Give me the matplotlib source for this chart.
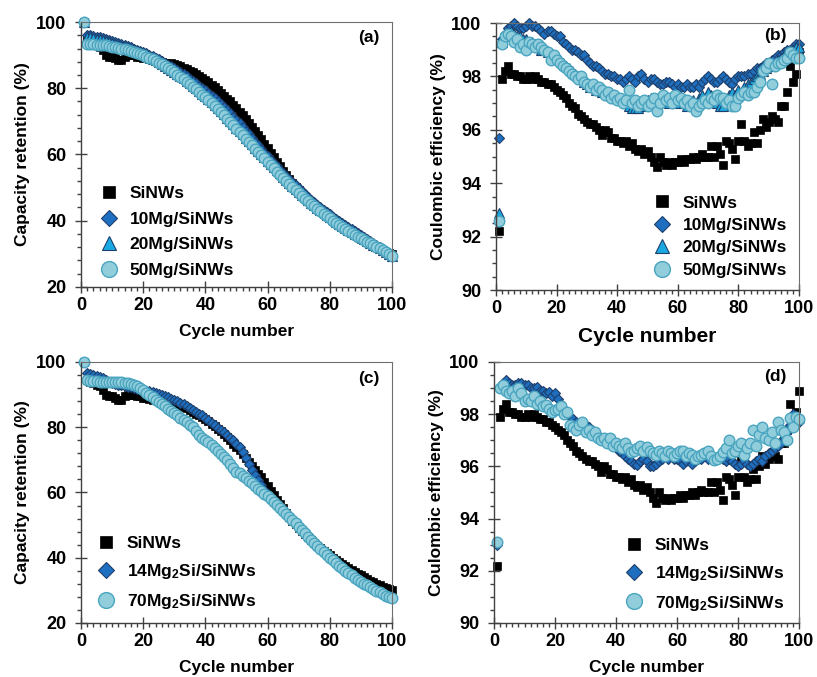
import numpy as np
import matplotlib
matplotlib.use('Agg')
from matplotlib import pyplot as plt
from matplotlib.ticker import MultipleLocator

plt.rcParams['font.family'] = ['Liberation Sans', 'DejaVu Sans']
plt.rcParams['font.weight'] = 'bold'
plt.rcParams['mathtext.fontset'] = 'custom'
plt.rcParams['mathtext.rm'] = 'Liberation Sans:bold'
plt.rcParams['mathtext.default'] = 'rm'

cycles = np.arange(1, 101)

# capacity retention (%), panels (a) and (c)
cap_sinws = [100,
             94.5, 94, 93.5, 93, 92.5, 91.5, 90, 89.5, 89.5,
             89, 88.5, 88.5, 89.5, 90, 90, 90, 89.5, 89.5, 89,
             89, 88.7, 88.5, 88.2, 88, 87.8, 87.6, 87.4, 87.5, 87.3,
             87, 86.6, 86.2, 85.8, 85.3, 84.8, 84.2, 83.7, 83.1, 82.5,
             81.8, 81.1, 80.3, 79.5, 78.7, 77.8, 76.9, 76, 75, 74,
             72.9, 71.8, 70.6, 69.4, 68.2, 67, 65.8, 64.6, 63.3, 62,
             60.6, 59.2, 57.8, 56.4, 55.1, 53.8, 52.6, 51.4, 50.3, 49.2,
             48.2, 47.2, 46.3, 45.4, 44.5, 43.7, 42.9, 42.1, 41.4, 40.7,
             40, 39.3, 38.6, 38, 37.4, 36.8, 36.2, 35.6, 35.1, 34.6,
             34.1, 33.5, 33, 32.5, 32, 31.5, 31.1, 30.7, 30.3, 30]
cap_10mg = [100,
            96, 96, 95.8, 95.6, 95.4, 95.2, 95, 94.7, 94.4,
            94.1, 93.8, 93.5, 93.2, 92.8, 92.4, 92, 91.6, 91.2, 90.8,
            90.5, 90.1, 89.7, 89.2, 88.7, 88.2, 87.7, 87.1, 86.6, 86.1,
            85.5, 84.9, 84.3, 83.6, 82.9, 82.2, 81.5, 80.8, 80.1, 79.4,
            78.6, 77.8, 77, 76.1, 75.2, 74.3, 73.4, 72.4, 71.4, 70.4,
            69.4, 68.3, 67.2, 66.1, 65, 63.9, 62.8, 61.7, 60.6, 59.5,
            58.4, 57.4, 56.4, 55.4, 54.4, 53.4, 52.5, 51.6, 50.7, 49.8,
            48.9, 48, 47.2, 46.4, 45.6, 44.8, 44, 43.3, 42.6, 41.9,
            41.2, 40.5, 39.8, 39.2, 38.6, 38, 37.4, 36.8, 36.2, 35.6,
            35, 34.4, 33.8, 33.2, 32.6, 32, 31.4, 30.7, 30, 29.3]
cap_20mg = [100,
            95.5, 95.4, 95.2, 95, 94.8, 94.5, 94.2, 93.9, 93.6,
            93.3, 93, 92.7, 92.4, 92.1, 91.8, 91.4, 91, 90.6, 90.2,
            89.8, 89.4, 88.9, 88.4, 87.9, 87.4, 86.8, 86.2, 85.6, 85,
            84.4, 83.7, 83, 82.3, 81.6, 80.8, 80, 79.2, 78.4, 77.6,
            76.7, 75.8, 74.9, 74, 73.1, 72.1, 71.1, 70.1, 69.1, 68.1,
            67.1, 66.1, 65.1, 64.1, 63.1, 62.1, 61.1, 60.1, 59.1, 58.1,
            57.2, 56.2, 55.2, 54.3, 53.3, 52.4, 51.5, 50.6, 49.7, 48.8,
            47.9, 47.1, 46.3, 45.5, 44.7, 43.9, 43.2, 42.5, 41.8, 41.1,
            40.4, 39.7, 39.1, 38.5, 37.9, 37.3, 36.7, 36.1, 35.6, 35,
            34.4, 33.9, 33.4, 32.8, 32.3, 31.8, 31.3, 30.7, 30.1, 29.4]
cap_50mg = [100,
            93.5, 93.5, 93.5, 93.2, 93, 93, 93, 92.8, 92.6,
            92.4, 92.2, 92, 91.7, 91.4, 91.1, 90.8, 90.5, 90.2, 89.9,
            89.5, 89.1, 88.7, 88.2, 87.7, 87.2, 86.6, 86, 85.4, 84.8,
            84.1, 83.4, 82.7, 82, 81.3, 80.5, 79.7, 78.9, 78.1, 77.3,
            76.4, 75.5, 74.6, 73.7, 72.8, 71.8, 70.8, 69.8, 68.8, 67.8,
            66.8, 65.8, 64.8, 63.8, 62.8, 61.8, 60.8, 59.8, 58.8, 57.8,
            56.8, 55.8, 54.8, 53.9, 52.9, 52, 51.1, 50.2, 49.3, 48.4,
            47.5, 46.7, 45.9, 45.1, 44.3, 43.5, 42.8, 42.1, 41.4, 40.7,
            40, 39.4, 38.7, 38.1, 37.5, 36.9, 36.3, 35.8, 35.2, 34.7,
            34.2, 33.7, 33.2, 32.7, 32.2, 31.7, 31.2, 30.6, 30, 29.3]
cap_14mg2si = [100,
               96.5, 96.3, 96, 95.7, 95.4, 95, 94.5, 94, 93.6,
               93.3, 93, 92.8, 92.6, 92.4, 92.2, 92, 91.8, 91.6, 91.4,
               91.2, 91, 90.8, 90.6, 90.3, 90, 89.6, 89.2, 88.8, 88.4,
               88, 87.5, 87, 86.5, 86, 85.4, 84.8, 84.2, 83.6, 82.9,
               82.2, 81.4, 80.6, 79.9, 79.2, 78.5, 77.6, 76.8, 76, 75,
               73.8, 72.3, 70.6, 68.8, 67, 65.3, 63.7, 62.2, 60.8, 59.5,
               58.3, 57.2, 56.1, 55.1, 54.1, 53.2, 52.3, 51.4, 50.5, 49.6,
               48.7, 47.8, 46.9, 46, 45.1, 44.2, 43.3, 42.4, 41.5, 40.6,
               39.8, 39, 38.2, 37.4, 36.6, 35.8, 35, 34.3, 33.6, 32.9,
               32.2, 31.6, 31, 30.4, 29.8, 29.3, 28.8, 28.4, 28, 27.7]
cap_70mg2si = [100,
               94.5, 94.3, 94.2, 94.1, 94, 94, 94, 94, 94,
               94, 93.9, 93.8, 93.7, 93.5, 93.3, 93, 92.6, 92, 91.3,
               90.6, 89.9, 89.2, 88.5, 87.8, 87.1, 86.4, 85.7, 85, 84.3,
               83.6, 82.9, 82.2, 81.5, 80.8, 80, 78.8, 77.6, 76.8, 76.2,
               75.5, 74.6, 73.7, 72.8, 71.9, 71, 70, 68.8, 67.5, 66.3,
               66, 65.2, 64.4, 63.6, 62.8, 62, 61.2, 60.4, 59.6, 58.8,
               57.9, 57, 56.1, 55.2, 54.3, 53.4, 52.5, 51.5, 50.5, 49.5,
               48.5, 47.5, 46.5, 45.5, 44.5, 43.6, 42.7, 41.8, 40.9, 40,
               39.2, 38.4, 37.6, 36.8, 36, 35.3, 34.6, 33.9, 33.3, 32.7,
               32.1, 31.5, 30.9, 30.4, 29.9, 29.4, 28.9, 28.4, 28, 27.6]

# coulombic efficiency (%), panels (b) and (d)
ce_sinws = [92.2,
            97.9, 98.2, 98.4, 98.1, 98.1, 98.0, 98.0, 97.9, 97.9,
            98.0, 97.9, 98.0, 97.9, 97.8, 97.8, 97.7, 97.7, 97.6, 97.5,
            97.4, 97.3, 97.2, 97.0, 96.9, 96.8, 96.6, 96.5, 96.4, 96.3,
            96.2, 96.2, 96.1, 96.0, 95.8, 96.0, 95.9, 95.7, 95.7, 95.6,
            95.6, 95.5, 95.6, 95.4, 95.5, 95.3, 95.2, 95.3, 95.1, 95.2,
            95.0, 94.8, 94.6, 95.0, 94.8, 94.7, 94.8, 94.7, 94.8, 94.8,
            94.9, 94.8, 94.9, 94.9, 95.0, 94.9, 95.0, 95.1, 95.0, 95.0,
            95.4, 95.0, 95.4, 95.1, 94.7, 95.6, 95.5, 95.3, 94.9, 95.6,
            96.2, 95.6, 95.4, 95.5, 95.9, 95.5, 96.0, 96.4, 96.1, 96.3,
            96.5, 96.4, 96.3, 96.9, 96.9, 97.4, 98.4, 97.8, 98.1, 98.9]
ce_10mg = [95.7,
           99.4, 99.6, 99.8, 99.9, 100.0, 99.9, 99.8, 99.8, 99.9,
           100.0, 99.9, 99.9, 99.8, 99.7, 99.6, 99.7, 99.7, 99.6, 99.5,
           99.5, 99.3, 99.2, 99.1, 99.0, 99.0, 98.9, 98.8, 98.8, 98.6,
           98.5, 98.4, 98.4, 98.3, 98.2, 98.1, 98.1, 98.0, 98.0, 97.9,
           97.9, 97.8, 97.9, 98.0, 97.9, 97.8, 98.0, 98.1, 97.9, 97.8,
           97.9, 97.9, 97.8, 97.7, 97.7, 97.8, 97.8, 97.7, 97.6, 97.7,
           97.6, 97.6, 97.7, 97.6, 97.6, 97.7, 97.6, 97.8, 97.9, 98.0,
           97.9, 97.8, 97.8, 97.9, 98.0, 97.9, 97.8, 97.7, 97.9, 98.0,
           98.0, 98.0, 98.1, 98.1, 98.2, 98.3, 98.3, 98.4, 98.5, 98.5,
           98.6, 98.7, 98.8, 98.8, 98.9, 99.0, 99.0, 99.1, 99.2, 99.2]
ce_20mg = [92.9,
           99.3, 99.5, 99.6, 99.7, 99.6, 99.5, 99.5, 99.4, 99.4,
           99.3, 99.3, 99.2, 99.1, 99.0, 99.0, 98.9, 98.8, 98.8, 98.7,
           98.6, 98.5, 98.4, 98.3, 98.2, 98.1, 98.0, 97.9, 97.8, 97.7,
           97.6, 97.6, 97.5, 97.5, 97.4, 97.4, 97.3, 97.3, 97.2, 97.2,
           97.1, 97.1, 97.0, 96.9, 96.8, 96.8, 96.8, 96.9, 97.0, 97.1,
           97.2, 97.1, 97.0, 97.1, 97.2, 97.1, 97.0, 97.1, 97.2, 97.0,
           97.1, 97.0, 96.9, 97.0, 97.1, 97.0, 97.2, 97.3, 97.2, 97.4,
           97.3, 97.2, 97.0, 96.9, 96.9, 97.1, 97.3, 97.4, 97.3, 97.5,
           97.4, 97.6, 97.7, 97.8, 97.9, 98.0, 98.1, 98.2, 98.3, 98.4,
           98.4, 98.5, 98.6, 98.7, 98.8, 98.9, 99.0, 99.0, 99.1, 99.1]
ce_50mg = [92.6,
           99.2, 99.5, 99.6, 99.5, 99.3, 99.4, 99.1, 99.2, 99.0,
           99.3, 99.2, 99.1, 99.2, 99.1, 99.0, 98.9, 98.6, 98.8, 98.6,
           98.5, 98.4, 98.3, 98.2, 98.1, 98.0, 97.9, 98.0, 97.8, 97.7,
           97.6, 97.7, 97.5, 97.6, 97.5, 97.3, 97.4, 97.2, 97.3, 97.1,
           97.2, 97.0, 97.1, 97.5, 97.0, 97.1, 96.9, 97.0, 97.1, 96.9,
           97.0, 97.2, 96.7, 97.0, 97.3, 97.1, 97.2, 97.0, 97.3, 97.1,
           97.2, 97.0, 97.1, 96.9, 97.0, 96.7, 96.9, 97.0, 97.1, 97.0,
           97.2, 97.1, 97.3, 97.2, 97.2, 97.0, 97.1, 96.9, 96.9, 97.2,
           97.3, 97.4, 97.3, 97.4, 97.4, 97.6, 97.8, 98.2, 98.3, 98.5,
           97.7, 98.4, 98.5, 98.5, 98.6, 98.7, 98.9, 98.8, 98.7, 98.7]
ce_14mg2si = [93.0,
              99.0, 99.2, 99.3, 99.2, 99.1, 99.1, 99.2, 99.2, 99.1,
              99.1, 99.0, 99.0, 99.05, 98.9, 98.9, 98.8, 98.85, 98.7, 98.8,
              98.6, 98.4, 98.2, 98.0, 97.9, 97.8, 97.7, 97.6, 97.6, 97.6,
              97.5, 97.4, 97.3, 97.2, 97.1, 97.0, 96.9, 96.9, 96.8, 96.8,
              96.6, 96.5, 96.4, 96.3, 96.2, 96.1, 96.05, 96.2, 96.3, 96.2,
              96.0, 96.0, 96.1, 96.2, 96.3, 96.4, 96.3, 96.4, 96.3, 96.3,
              96.2, 96.1, 96.2, 96.3, 96.1, 96.2, 96.3, 96.3, 96.4, 96.3,
              96.4, 96.3, 96.3, 96.4, 96.3, 96.2, 96.3, 96.2, 96.1, 96.0,
              96.1, 96.2, 96.1, 96.0, 96.1, 96.2, 96.3, 96.2, 96.4, 96.5,
              96.6, 96.7, 96.8, 96.9, 97.1, 97.3, 97.6, 98.0, 97.9, 97.7]
ce_70mg2si = [93.1,
              99.0, 99.1, 98.9, 98.8, 98.9, 98.7, 99.0, 98.8, 98.5,
              98.6, 98.5, 98.7, 98.4, 98.5, 98.3, 98.35, 98.2, 98.1, 98.15,
              98.2, 98.3, 98.0, 98.1, 97.6, 97.5, 97.4, 97.6, 97.7, 97.3,
              97.4, 97.2, 97.3, 97.1, 97.0, 97.1, 96.9, 97.1, 96.8, 96.9,
              96.8, 96.7, 96.9, 96.7, 96.55, 96.6, 96.7, 96.8, 96.6, 96.75,
              96.6, 96.5, 96.45, 96.6, 96.5, 96.4, 96.6, 96.5, 96.4, 96.5,
              96.6, 96.6, 96.4, 96.5, 96.45, 96.3, 96.4, 96.45, 96.5, 96.6,
              96.4, 96.25, 96.3, 96.4, 96.55, 96.7, 97.0, 96.5, 96.6, 96.8,
              96.9, 96.45, 96.7, 96.9, 97.4, 96.8, 97.2, 97.5, 97.1, 97.0,
              97.3, 96.9, 97.7, 97.4, 97.3, 97.0, 97.85, 97.5, 97.9, 97.8]

SQ = dict(marker='s', ms=5.8, mfc='black', mec='black', mew=0.5, ls='none')
DIA = dict(marker='D', ms=5.4, mfc='#1E6FBF', mec='#1F3F6B', mew=0.8, ls='none')
TRI = dict(marker='^', ms=6.8, mfc='#1AA8E3', mec='#1F3F6B', mew=0.8, ls='none')
CIR = dict(marker='o', ms=7.6, mfc='#92CDDC', mec='#4AA5C0', mew=1.0, ls='none')

FS = 12.5


def style(ax, ylo, yhi, ymaj, ymin, ylabel, tag, tag_y, xlab_fs=FS):
    ax.set_xlim(0, 100)
    ax.set_ylim(ylo, yhi)
    ax.xaxis.set_major_locator(MultipleLocator(20))
    ax.xaxis.set_minor_locator(MultipleLocator(2))
    ax.yaxis.set_major_locator(MultipleLocator(ymaj))
    ax.yaxis.set_minor_locator(MultipleLocator(ymin))
    ax.tick_params(which='major', direction='inout', length=9, width=1,
                   color='#404040', labelsize=13)
    ax.tick_params(which='minor', direction='out', length=3, width=1,
                   color='#404040')
    ax.tick_params(axis='x', which='major', pad=3)
    ax.tick_params(axis='y', which='major', pad=6)
    for side in ['left', 'bottom']:
        ax.spines[side].set_color('#404040')
        ax.spines[side].set_linewidth(1.0)
    for side in ['top', 'right']:
        ax.spines[side].set_color('#6f6f6f')
        ax.spines[side].set_linewidth(0.8)
    ax.set_xlabel('Cycle number', fontsize=xlab_fs, fontweight='bold')
    ax.set_ylabel(ylabel, fontsize=FS, fontweight='bold')
    ax.xaxis.set_label_coords(0.5, -0.14)
    ax.yaxis.set_label_coords(-0.165, 0.5)
    ax.text(0.96, tag_y, tag, transform=ax.transAxes, ha='right', va='center',
            fontsize=FS, fontweight='bold')


def leg(ax, x, y, spacing):
    ax.legend(loc='center left', bbox_to_anchor=(x, y), frameon=False,
              fontsize=FS, markerscale=1.5, handlelength=1.0,
              handletextpad=0.7, labelspacing=spacing, borderpad=0,
              borderaxespad=0)


fig = plt.figure(figsize=(8.17, 6.77), dpi=100)

# (a)
ax = fig.add_axes([0.0991, 0.5761, 0.3807, 0.3914])
ax.plot(cycles, cap_sinws, label='SiNWs', clip_on=False, **SQ)
ax.plot(cycles, cap_10mg, label='10Mg/SiNWs', clip_on=False, **DIA)
ax.plot(cycles, cap_20mg, label='20Mg/SiNWs', clip_on=False, **TRI)
ax.plot(cycles, cap_50mg, label='50Mg/SiNWs', clip_on=False, **CIR)
style(ax, 20, 100, 20, 4, 'Capacity retention (%)', '(a)', 0.94)
leg(ax, 0.062, 0.207, 0.6)

# (b)
ax = fig.add_axes([0.6071, 0.5716, 0.3709, 0.3944])
ax.plot(cycles, ce_sinws, label='SiNWs', clip_on=False, **SQ)
ax.plot(cycles, ce_10mg, label='10Mg/SiNWs', clip_on=False, **DIA)
ax.plot(cycles, ce_20mg, label='20Mg/SiNWs', clip_on=False, **TRI)
ax.plot(cycles, ce_50mg, label='50Mg/SiNWs', clip_on=False, **CIR)
style(ax, 90, 100, 2, 0.5, 'Coulombic efficiency (%)', '(b)', 0.955, xlab_fs=15)
leg(ax, 0.519, 0.2, 0.42)

# (c)
ax = fig.add_axes([0.0991, 0.0798, 0.3807, 0.3855])
ax.plot(cycles, cap_sinws, label='SiNWs', clip_on=False, **SQ)
ax.plot(cycles, cap_14mg2si, label='14Mg$_2$Si/SiNWs', clip_on=False, **DIA)
ax.plot(cycles, cap_70mg2si, label='70Mg$_2$Si/SiNWs', clip_on=False, **CIR)
style(ax, 20, 100, 20, 4, 'Capacity retention (%)', '(c)', 0.937)
leg(ax, 0.052, 0.189, 0.62)

# (d)
ax = fig.add_axes([0.6047, 0.0798, 0.3733, 0.3855])
ax.plot(cycles, ce_sinws, label='SiNWs', clip_on=False, **SQ)
ax.plot(cycles, ce_14mg2si, label='14Mg$_2$Si/SiNWs', clip_on=False, **DIA)
ax.plot(cycles, ce_70mg2si, label='70Mg$_2$Si/SiNWs', clip_on=False, **CIR)
style(ax, 90, 100, 2, 0.5, 'Coulombic efficiency (%)', '(d)', 0.944)
leg(ax, 0.43, 0.183, 0.62)

fig.savefig('out.png', dpi=100)
